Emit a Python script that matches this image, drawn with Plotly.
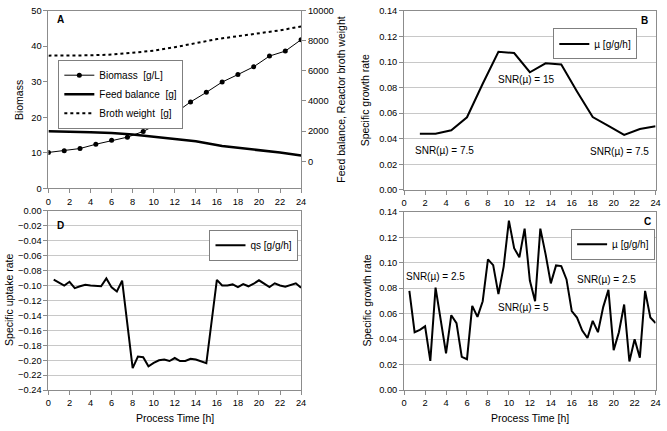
import plotly.graph_objects as go

# ---------------- data ----------------
# Panel A
biomass_t = [0, 1.5, 3, 4.5, 6, 7.5, 9, 10.5, 12, 13.5, 15, 16.5, 18, 19.5, 21, 22.5, 24]
biomass = [10.1, 10.6, 11.2, 12.4, 13.5, 14.4, 16.0, 18.3, 21.1, 24.3, 27.0, 29.9, 32.0, 34.2, 37.2, 38.6, 41.8]
feed_t = [0, 2, 4, 6, 8, 10, 12, 14, 16.5, 18, 20, 22, 24]
feed_balance = [2000, 1980, 1935, 1870, 1785, 1634, 1505, 1333, 1011, 903, 753, 580, 387]
broth_t = [0, 2, 4, 6, 8, 10, 12, 14, 16, 18, 20, 22, 24]
broth_weight = [7010, 7015, 7030, 7080, 7183, 7333, 7570, 7828, 8108, 8300, 8473, 8688, 8946]
right_ticks = [0, 2000, 4000, 6000, 8000, 10000]

# Panel B
mu_b_t = [1.5, 3, 4.5, 6, 7.5, 9, 10.5, 12, 13.5, 15, 16.5, 18, 19.5, 21, 22.5, 24]
mu_b = [0.044, 0.044, 0.0466, 0.0568, 0.083, 0.108, 0.107, 0.092, 0.099, 0.098, 0.077, 0.057, 0.050, 0.043, 0.0476, 0.0497]

# Panel D
qs_t = [0.5, 1, 1.5, 2, 2.5, 3, 3.5, 4, 4.5, 5, 5.5, 6, 6.5, 7,
        8, 8.5, 9, 9.5, 10, 10.5, 11, 11.5, 12, 12.5, 13, 13.5, 14, 14.5, 15,
        16, 16.5, 17, 17.5, 18, 18.5, 19, 19.5, 20, 20.5, 21, 21.5, 22, 22.5, 23, 23.5, 24]
qs = [-0.092, -0.096, -0.100, -0.095, -0.1035, -0.101, -0.099, -0.100, -0.100, -0.101, -0.0905, -0.1025, -0.108, -0.0935,
      -0.2105, -0.195, -0.196, -0.208, -0.2035, -0.200, -0.199, -0.201, -0.197, -0.201, -0.201, -0.198, -0.199, -0.201, -0.204,
      -0.0925, -0.100, -0.100, -0.0985, -0.102, -0.098, -0.101, -0.0976, -0.093, -0.098, -0.102, -0.097, -0.100, -0.1015, -0.0997, -0.097, -0.103]

# Panel C
mu_c_t = [0.5, 1, 1.5, 2, 2.5, 3, 4, 4.5, 5, 5.5, 6, 6.5, 7, 7.5,
          8, 8.5, 9, 9.5, 10, 10.5, 11, 11.5, 12, 12.5, 13, 13.5, 14, 14.5, 15, 15.5,
          16, 16.5, 17, 17.5, 18, 18.5, 19, 19.5, 20, 20.5, 21, 21.5, 22, 22.5, 23, 23.5, 24]
mu_c = [0.0779, 0.0455, 0.0473, 0.0501, 0.0230, 0.0805, 0.0288, 0.0588, 0.0526, 0.0261, 0.0243, 0.0662, 0.0575, 0.0698,
        0.1027, 0.0981, 0.0754, 0.097, 0.1331, 0.1114, 0.1043, 0.1268, 0.086, 0.0698, 0.1268, 0.1068, 0.0838, 0.0979, 0.0974, 0.0869,
        0.0621, 0.057, 0.0468, 0.0409, 0.0544, 0.0455, 0.0652, 0.0787, 0.0314, 0.0455, 0.0672, 0.0225, 0.0399, 0.0255, 0.0779, 0.057, 0.0526]

x_ticks = list(range(0, 25, 2))

# ---------------- figure ----------------
W, H = 667, 431
FONT = "Liberation Sans, Arial, sans-serif"


def px(x):
    return x / W


def py(y):
    return 1 - y / H


fig = go.Figure()

fig.add_trace(go.Scatter(x=biomass_t, y=biomass, name="Biomass  [g/L]", mode="lines+markers",
                         line=dict(color="black", width=1), marker=dict(color="black", size=5),
                         xaxis="x", yaxis="y", legend="legend"))
fig.add_trace(go.Scatter(x=feed_t, y=feed_balance, name="Feed balance  [g]", mode="lines",
                         line=dict(color="black", width=2.5), xaxis="x", yaxis="y2", legend="legend"))
fig.add_trace(go.Scatter(x=broth_t, y=broth_weight, name="Broth weight  [g]", mode="lines",
                         line=dict(color="black", width=2, dash="dot"), xaxis="x", yaxis="y2", legend="legend"))
fig.add_trace(go.Scatter(x=mu_b_t, y=mu_b, name="µ [g/g/h]", mode="lines",
                         line=dict(color="black", width=2), xaxis="x2", yaxis="y3", legend="legend2"))
fig.add_trace(go.Scatter(x=qs_t, y=qs, name="qs [g/g/h]", mode="lines",
                         line=dict(color="black", width=2), xaxis="x3", yaxis="y4", legend="legend3"))
fig.add_trace(go.Scatter(x=mu_c_t, y=mu_c, name="µ [g/g/h]", mode="lines",
                         line=dict(color="black", width=2), xaxis="x4", yaxis="y5", legend="legend4"))

tickfont = dict(family=FONT, size=9.3, color="black")
axis_common = dict(showline=True, linecolor="#8c8c8c", linewidth=1, mirror=True,
                   ticks="outside", ticklen=4, tickcolor="#8c8c8c", tickfont=tickfont,
                   zeroline=False, fixedrange=True, ticklabeloverflow="allow")

dom_left = [px(46), px(301.7)]
dom_right = [px(406), px(660.5)]
dom_top_a = [py(187.7), py(5.7)]
dom_top_b = [py(189.3), py(6)]
dom_bot_d = [py(394.3), py(210.7)]
dom_bot_c = [py(394.3), py(211.7)]

xcommon = dict(range=[0, 24], tickvals=x_ticks, showgrid=False, **axis_common)
grid = dict(showgrid=True, gridcolor="#c8c8c8", gridwidth=1)

fig.update_layout(
    width=W, height=H, autosize=False,
    margin=dict(l=0, r=0, t=0, b=0),
    paper_bgcolor="white", plot_bgcolor="white",
    font=dict(family=FONT, size=10, color="black"),
    xaxis=dict(domain=dom_left, anchor="y", **xcommon),
    yaxis=dict(domain=dom_top_a, anchor="x", range=[0, 50], dtick=10, showgrid=False, **axis_common),
    yaxis2=dict(overlaying="y", side="right", anchor="x", range=[-1795, 10000],
                tickvals=right_ticks, ticktext=[str(v) for v in right_ticks], showgrid=False,
                **{k: v for k, v in axis_common.items() if k != "mirror"}),
    xaxis2=dict(domain=dom_right, anchor="y3", **xcommon),
    yaxis3=dict(domain=dom_top_b, anchor="x2", range=[0, 0.14], dtick=0.02, tickformat=".2f",
                **grid, **axis_common),
    xaxis3=dict(domain=dom_left, anchor="y4", **xcommon),
    yaxis4=dict(domain=dom_bot_d, anchor="x3", range=[-0.24, 0], dtick=0.02, tickformat=".2f",
                **grid, **axis_common),
    xaxis4=dict(domain=dom_right, anchor="y5", **xcommon),
    yaxis5=dict(domain=dom_bot_c, anchor="x4", range=[0, 0.14], dtick=0.02, tickformat=".2f",
                **grid, **axis_common),
)

leg_common = dict(bgcolor="white", bordercolor="#7f7f7f", borderwidth=1,
                  font=dict(family=FONT, size=10, color="black"),
                  xanchor="left", yanchor="top", itemwidth=30, tracegroupgap=0)
fig.update_layout(
    legend=dict(x=px(56), y=py(56), **leg_common),
    legend2=dict(x=px(557), y=py(24), **leg_common),
    legend3=dict(x=px(209), y=py(230), **leg_common),
    legend4=dict(x=px(575), y=py(229), **leg_common),
)

ann = []


def text(x, y, s, size=10, bold=False, angle=0):
    ann.append(dict(x=px(x), y=py(y), xref="paper", yref="paper", text=f"<b>{s}</b>" if bold else s,
                    showarrow=False, xanchor="center", yanchor="middle", textangle=angle,
                    font=dict(family=FONT, size=size, color="black")))


# panel letters
text(58, 15, "A", 10, True)
text(649, 16, "B", 10, True)
text(58, 226, "D", 10, True)
text(652, 222, "C", 10, True)

# SNR labels
text(529, 76, "SNR(µ) = 15")
text(447, 149, "SNR(µ) = 7.5")
text(624, 150, "SNR(µ) = 7.5")
text(438, 278, "SNR(µ) = 2.5")
text(527, 310, "SNR(µ) = 5")
text(611, 281, "SNR(µ) = 2.5")

# axis titles
text(15.5, 97, "Biomass", 10.5, angle=-90)
text(342, 97, "Feed balance, Reactor broth weight", 10.5, angle=-90)
text(366, 98, "Specific growth rate", 10.5, angle=-90)
text(6, 302, "Specific uptake rate", 10.5, angle=-90)
text(368, 303, "Specific growth rate", 10.5, angle=-90)
text(174, 423, "Process Time [h]", 10.5)
text(533, 423, "Process Time [h]", 10.5)

fig.update_layout(annotations=ann)

# remove the browser's default 8px body margin so the figure fills the window exactly
fig.write_html("out.html", config={"displayModeBar": False},
               post_script="document.body.style.margin='0';document.body.style.padding='0';")
